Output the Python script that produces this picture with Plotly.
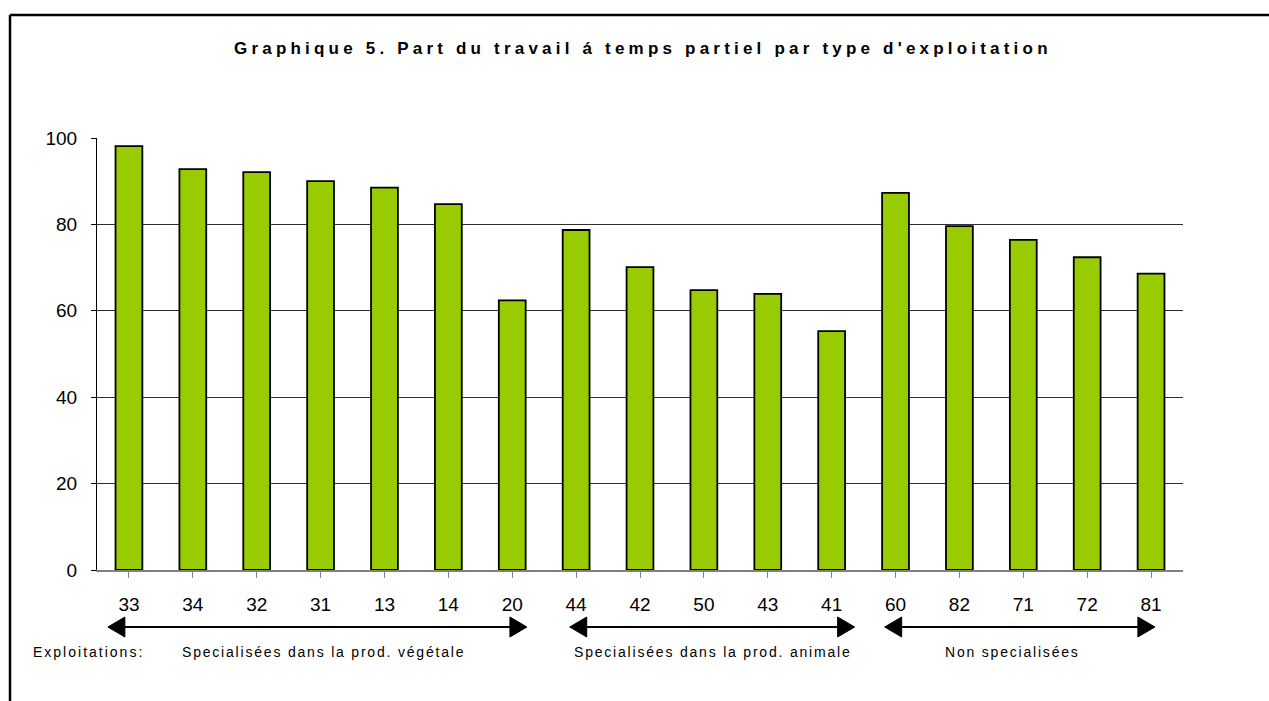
import plotly.graph_objects as go

categories = ["33", "34", "32", "31", "13", "14", "20", "44", "42", "50", "43", "41", "60", "82", "71", "72", "81"]
values = [98.1, 92.8, 92.1, 90.0, 88.5, 84.7, 62.4, 78.7, 70.1, 64.8, 63.9, 55.3, 87.3, 79.6, 76.4, 72.4, 68.6]
y_ticks = [0, 20, 40, 60, 80, 100]
group_labels = ["Specialisées dans la prod. végétale", "Specialisées dans la prod. animale", "Non specialisées"]
group_spans = [(-0.33, 6.23), (6.9, 11.36), (11.83, 16.06)]  # in category-index units
label_centers = [323, 713, 1012]  # pixel centres of group captions
prefix_label = "Exploitations:"
title_text = "Graphique 5. Part du travail á temps partiel par type d'exploitation"

FONT = "Arial, Liberation Sans, sans-serif"
W, H = 1269, 701
ML, MR, MT, MB = 97, 86, 138, 131
PW = W - ML - MR
PH = H - MT - MB
N = len(categories)

def px_to_paper_x(px):
    return (px - ML) / PW

def px_to_paper_y(py):
    return (H - MB - py) / PH

def idx_to_paper_x(v):
    return (v + 0.5) / N

fig = go.Figure()
fig.add_trace(go.Bar(
    x=list(range(N)), y=values,
    marker=dict(color="#99cc00", line=dict(color="#000000", width=1.8)),
    hoverinfo="x+y",
))

shapes = []
# outer frame (left + top)
shapes.append(dict(type="line", xref="paper", yref="paper",
                   x0=px_to_paper_x(10), x1=px_to_paper_x(10),
                   y0=px_to_paper_y(15), y1=px_to_paper_y(705),
                   line=dict(color="#000", width=2.5)))
shapes.append(dict(type="line", xref="paper", yref="paper",
                   x0=px_to_paper_x(10), x1=px_to_paper_x(1275),
                   y0=px_to_paper_y(15), y1=px_to_paper_y(15),
                   line=dict(color="#000", width=2.5)))

arrow_y = px_to_paper_y(627)
head_len = 17 / PW
head_half = 10 / PH
for (a, b) in group_spans:
    xa = idx_to_paper_x(a)
    xb = idx_to_paper_x(b)
    shapes.append(dict(type="line", xref="paper", yref="paper",
                       x0=xa + head_len, x1=xb - head_len, y0=arrow_y, y1=arrow_y,
                       line=dict(color="#000", width=2)))
    shapes.append(dict(type="path", xref="paper", yref="paper",
                       path=f"M {xa} {arrow_y} L {xa + head_len} {arrow_y + head_half} L {xa + head_len} {arrow_y - head_half} Z",
                       fillcolor="#000", line=dict(color="#000", width=1)))
    shapes.append(dict(type="path", xref="paper", yref="paper",
                       path=f"M {xb} {arrow_y} L {xb - head_len} {arrow_y + head_half} L {xb - head_len} {arrow_y - head_half} Z",
                       fillcolor="#000", line=dict(color="#000", width=1)))

annotations = []
text_y = px_to_paper_y(652)
for cx, lab in zip(label_centers, group_labels):
    annotations.append(dict(xref="paper", yref="paper", x=px_to_paper_x(cx),
                            y=text_y, text=f'<span style="letter-spacing:1.8px">{lab}</span>',
                            showarrow=False, xanchor="center", yanchor="middle",
                            font=dict(family=FONT, size=14, color="#000")))
annotations.append(dict(xref="paper", yref="paper", x=px_to_paper_x(31), y=text_y,
                        text=f'<span style="letter-spacing:2px">{prefix_label}</span>',
                        showarrow=False, xanchor="left", yanchor="middle",
                        font=dict(family=FONT, size=14, color="#000")))
annotations.append(dict(xref="paper", yref="paper", x=px_to_paper_x(643), y=px_to_paper_y(49),
                        text=f'<span style="letter-spacing:4.2px"><b>{title_text}</b></span>',
                        showarrow=False, xanchor="center", yanchor="middle",
                        font=dict(family=FONT, size=17, color="#000")))

fig.update_layout(
    width=W, height=H,
    margin=dict(l=ML, r=MR, t=MT, b=MB, autoexpand=False),
    paper_bgcolor="white", plot_bgcolor="white",
    showlegend=False, bargap=0.58,
    shapes=shapes, annotations=annotations,
    font=dict(family=FONT, color="#000"),
)
fig.update_xaxes(
    range=[-0.5, N - 0.5], tickmode="array", tickvals=list(range(N)), ticktext=categories,
    tickson="boundaries", ticks="outside", ticklen=6, tickcolor="#808080", tickwidth=1,
    showline=True, linecolor="#808080", linewidth=1.5, showgrid=False, zeroline=False,
    tickfont=dict(family=FONT, size=19, color="#000"), ticklabelstandoff=10,
)
fig.update_yaxes(
    range=[0, 100], tickmode="array", tickvals=y_ticks,
    ticks="outside", ticklen=5, tickcolor="#000", tickwidth=1,
    showline=True, linecolor="#000", linewidth=1, showgrid=True, gridcolor="#303030", gridwidth=1,
    zeroline=False, tickfont=dict(family=FONT, size=19, color="#000"), ticklabelstandoff=10,
)

fig.write_html("out.html", config={"displayModeBar": False},
               post_script="document.body.style.margin='0';document.body.style.overflow='hidden';")
